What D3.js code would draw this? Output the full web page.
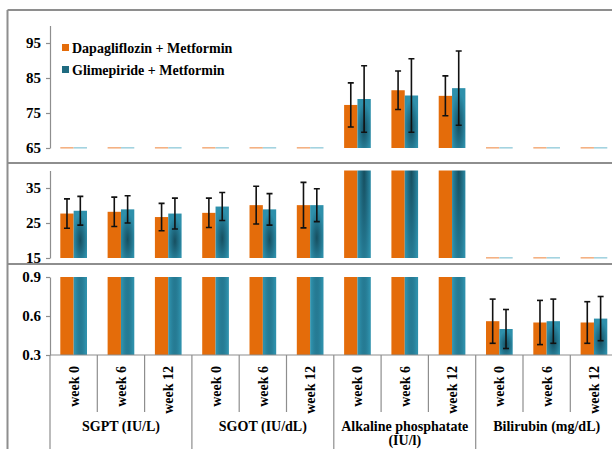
<!DOCTYPE html>
<html>
<head>
<meta charset="utf-8">
<script src="https://cdn.jsdelivr.net/npm/d3@7"></script>
<style>
  body { margin: 0; background: #ffffff; }
  svg { display: block; }
  svg text { font-family: "Liberation Serif", "DejaVu Serif", "Times New Roman", serif; }
</style>
</head>
<body>
<div id="chart"></div>
<script>
// Data
const groups = ["SGPT (IU/L)", "SGOT (IU/dL)", "Alkaline phosphatate (IU/l)", "Bilirubin (mg/dL)"];
const weeks = ["week 0", "week 6", "week 12"];
const seriesNames = ["Dapagliflozin + Metformin", "Glimepiride + Metformin"];

const dapaMean = [27.7, 28.2, 26.7, 27.9, 30.1, 30.1, 77.3, 81.5, 79.9, 0.56, 0.55, 0.55];
const dapaSD   = [4.2, 4.2, 3.9, 4.2, 5.4, 6.5, 6.3, 5.5, 5.7, 0.17, 0.17, 0.16];
const glimMean = [28.5, 28.9, 27.7, 29.7, 28.9, 30.1, 79.0, 80.0, 82.1, 0.50, 0.56, 0.58];
const glimSD   = [4.1, 3.9, 4.4, 4.0, 4.5, 4.7, 9.5, 10.5, 10.6, 0.15, 0.17, 0.17];

// Three stacked panels of a broken value axis
const topDomain = [65, 100], topTicks = [65, 75, 85, 95];
const midDomain = [15, 40],  midTicks = [15, 25, 35];
const lowDomain = [0.3, 0.9], lowTicks = [0.3, 0.6, 0.9];

const width = 612, height = 449;
const left = 50, step = 47.3;
const font = "'Liberation Serif', 'DejaVu Serif', 'Times New Roman', serif";

const svg = d3.select("#chart")
    .append("svg")
        .attr("width", width)
        .attr("height", height)
        .attr("font-family", font)
        .style("background", "#ffffff");

const defs = svg.append("defs");
const grad = defs.append("radialGradient")
    .attr("id", "tealGrad")
    .attr("cx", 0.5).attr("cy", 0.62).attr("r", 0.55);
grad.append("stop").attr("offset", 0).attr("stop-color", "#164f60");
grad.append("stop").attr("offset", 0.55).attr("stop-color", "#22728a");
grad.append("stop").attr("offset", 1).attr("stop-color", "#2e90ab");

// Category scale (12 bar pairs) and series scale inside each category
const keys = groups.flatMap(g => weeks.map(w => g + "|" + w));
const x = d3.scaleBand()
    .domain(keys)
    .range([left, left + keys.length * step])
    .paddingInner(0.436)
    .paddingOuter(0.218);
const xs = d3.scaleBand()
    .domain(seriesNames)
    .range([0, x.bandwidth()]);

const series = [
    { name: seriesNames[0], mean: dapaMean, sd: dapaSD, fill: "#e46c0a", dash: "#f4b183" },
    { name: seriesNames[1], mean: glimMean, sd: glimSD, fill: "url(#tealGrad)", dash: "#a3d3e0" }
];

const panels = [
    { domain: topDomain, ticks: topTicks, range: [148, 25.5], fmt: d3.format("d") },
    { domain: midDomain, ticks: midTicks, range: [258, 170.5], fmt: d3.format("d") },
    { domain: lowDomain, ticks: lowTicks, range: [355, 277], fmt: d3.format(".1f") }
];

// Panel frames
const frameColor = "#8e8e8e";
[10, 163, 264].forEach(yy => {
    svg.append("line").attr("x1", 7.5).attr("x2", width).attr("y1", yy).attr("y2", yy)
        .attr("stroke", frameColor).attr("stroke-width", 2);
});
svg.append("line").attr("x1", 7.5).attr("x2", 7.5).attr("y1", 10).attr("y2", height)
    .attr("stroke", frameColor).attr("stroke-width", 2);

panels.forEach((p, pi) => {
    const y = d3.scaleLinear().domain(p.domain).range(p.range);
    const min = p.domain[0];

    defs.append("clipPath")
        .attr("id", "clip" + pi)
        .append("rect")
            .attr("x", left)
            .attr("y", p.range[1])
            .attr("width", width - left)
            .attr("height", p.range[0] - p.range[1]);

    const g = svg.append("g").attr("clip-path", `url(#clip${pi})`);

    series.forEach(s => {
        const rows = keys.map((k, i) => ({ k, v: s.mean[i], sd: s.sd[i] }));

        // Bars (values above panel minimum)
        g.selectAll(null)
            .data(rows.filter(d => d.v >= min))
            .join("rect")
                .attr("x", d => x(d.k) + xs(s.name))
                .attr("y", d => y(d.v))
                .attr("width", xs.bandwidth())
                .attr("height", d => y(min) - y(d.v))
                .attr("fill", s.fill);

        // Error bars
        const eb = g.selectAll(null)
            .data(rows.filter(d => d.v >= min))
            .join("g")
                .attr("transform", d => `translate(${x(d.k) + xs(s.name) + xs.bandwidth() / 2},0)`);
        eb.append("line")
            .attr("y1", d => y(d.v - d.sd))
            .attr("y2", d => y(d.v + d.sd))
            .attr("stroke", "#111").attr("stroke-width", 1.6);
        eb.append("line")
            .attr("x1", -3).attr("x2", 3)
            .attr("y1", d => y(d.v + d.sd)).attr("y2", d => y(d.v + d.sd))
            .attr("stroke", "#111").attr("stroke-width", 1.6);
        eb.append("line")
            .attr("x1", -3).attr("x2", 3)
            .attr("y1", d => y(d.v - d.sd)).attr("y2", d => y(d.v - d.sd))
            .attr("stroke", "#111").attr("stroke-width", 1.6);

        // Values below the panel minimum show only as a faint baseline dash
        svg.selectAll(null)
            .data(rows.filter(d => d.v < min))
            .join("rect")
                .attr("x", d => x(d.k) + xs(s.name))
                .attr("y", y(min) - 1)
                .attr("width", xs.bandwidth())
                .attr("height", 1.6)
                .attr("fill", s.dash);
    });

    // Value axis
    const axis = svg.append("g")
        .attr("transform", `translate(${left},0)`)
        .call(d3.axisLeft(y).tickValues(p.ticks).tickFormat(p.fmt).tickSize(4).tickSizeOuter(0).tickPadding(5))
        .attr("font-family", font);
    axis.select(".domain").attr("stroke", "#8e8e8e").attr("stroke-width", 1.2);
    axis.selectAll(".tick line").attr("stroke", "#8e8e8e").attr("stroke-width", 1.2);
    axis.selectAll(".tick text")
        .style("font-family", font)
        .style("font-size", "15px")
        .style("font-weight", "bold")
        .style("fill", "#000");
});

// Category axis
const axisY = 355;
svg.append("line")
    .attr("x1", left).attr("x2", width)
    .attr("y1", axisY).attr("y2", axisY)
    .attr("stroke", "#8e8e8e").attr("stroke-width", 1.2);

svg.selectAll(null)
    .data(d3.range(keys.length + 1))
    .join("line")
        .attr("x1", i => left + i * x.step())
        .attr("x2", i => left + i * x.step())
        .attr("y1", axisY)
        .attr("y2", i => i % weeks.length === 0 ? height : 412)
        .attr("stroke", "#8e8e8e").attr("stroke-width", 1.2);

svg.selectAll(null)
    .data(keys)
    .join("text")
        .text(k => k.split("|")[1])
        .attr("transform", k => `translate(${x(k) + x.bandwidth() / 2 + 5},366) rotate(-90)`)
        .attr("text-anchor", "end")
        .style("font-family", font)
        .style("font-size", "14px")
        .style("font-weight", "bold")
        .style("fill", "#000");

// Group labels (long one wraps)
const groupText = svg.selectAll(null)
    .data(groups)
    .join("text")
        .attr("x", (g, i) => left + (i + 0.5) * weeks.length * x.step())
        .attr("y", 431)
        .attr("text-anchor", "middle")
        .style("font-family", font)
        .style("font-size", "14px")
        .style("font-weight", "bold")
        .style("fill", "#000");
groupText.each(function(g) {
    const el = d3.select(this);
    const parts = g.startsWith("Alkaline") ? ["Alkaline phosphatate", "(IU/l)"] : [g];
    parts.forEach((t, j) => {
        el.append("tspan")
            .attr("x", el.attr("x"))
            .attr("dy", j === 0 ? 0 : 14)
            .text(t);
    });
});

// Legend
const legend = svg.append("g");
series.forEach((s, i) => {
    legend.append("rect")
        .attr("x", 62).attr("y", 44 + i * 22)
        .attr("width", 7).attr("height", 7)
        .attr("fill", i === 0 ? "#e46c0a" : "#1f6b80");
    legend.append("text")
        .text(s.name)
        .attr("x", 72).attr("y", 53 + i * 22)
        .style("font-family", font)
        .style("font-size", "14px")
        .style("font-weight", "bold")
        .style("fill", "#000");
});
</script>
</body>
</html>
